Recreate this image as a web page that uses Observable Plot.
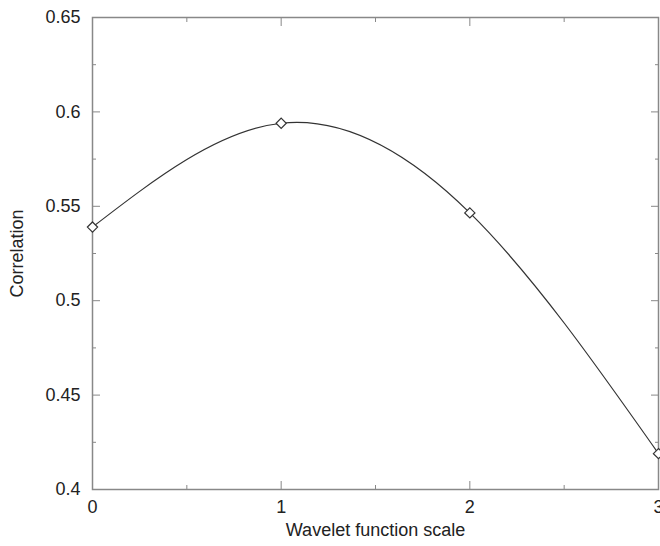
<!DOCTYPE html>
<html>
<head>
<meta charset="utf-8">
<script src="https://cdn.jsdelivr.net/npm/d3@7"></script>
<script src="https://cdn.jsdelivr.net/npm/@observablehq/plot@0.6"></script>
<style>
  html, body { margin: 0; padding: 0; background: #fff; }
</style>
</head>
<body>
<div id="chart"></div>
<script>
const scales = [0, 1, 2, 3];
const correlation = [0.539, 0.594, 0.5465, 0.419];
const xMajor = [0, 1, 2, 3];
const xMinor = [0.5, 1.5, 2.5];
const yMajor = [0.4, 0.45, 0.5, 0.55, 0.6, 0.65];
const yMinor = [0.425, 0.475, 0.525, 0.575, 0.625];
const xTitle = "Wavelet function scale";
const yTitle = "Correlation";

const data = scales.map((s, i) => ({scale: s, corr: correlation[i]}));
const fmtY = d => String(+d.toFixed(2));
const blank = () => "";
const axisColor = "#888";

const chart = Plot.plot({
  width: 660,
  height: 546,
  marginLeft: 92,
  marginRight: 2,
  marginTop: 17,
  marginBottom: 57,
  style: {fontFamily: "'Liberation Sans', Arial, sans-serif", fontSize: "18px", color: "#222", background: "#fff"},
  x: {domain: [0, 3]},
  y: {domain: [0.4, 0.65]},
  marks: [
    Plot.frame({stroke: axisColor, strokeWidth: 1.5}),
    // bottom axis
    Plot.axisX(xMajor, {anchor: "bottom", tickSize: -8, tickPadding: 19, stroke: axisColor, fill: "#222", tickFormat: d => String(d),
      label: xTitle, labelAnchor: "center", labelOffset: 46, labelArrow: "none"}),
    Plot.axisX(xMinor, {anchor: "bottom", tickSize: -4, stroke: axisColor, tickFormat: blank, label: null}),
    // top axis
    Plot.axisX(xMajor, {anchor: "top", tickSize: -8, stroke: axisColor, tickFormat: blank, label: null}),
    Plot.axisX(xMinor, {anchor: "top", tickSize: -4, stroke: axisColor, tickFormat: blank, label: null}),
    // left axis
    Plot.axisY(yMajor, {anchor: "left", tickSize: -8, tickPadding: 20, stroke: axisColor, fill: "#222", tickFormat: fmtY,
      label: yTitle, labelAnchor: "center", labelOffset: 82, labelArrow: "none"}),
    Plot.axisY(yMinor, {anchor: "left", tickSize: -4, stroke: axisColor, tickFormat: blank, label: null}),
    // right axis
    Plot.axisY(yMajor, {anchor: "right", tickSize: -8, stroke: axisColor, tickFormat: blank, label: null}),
    Plot.axisY(yMinor, {anchor: "right", tickSize: -4, stroke: axisColor, tickFormat: blank, label: null}),
    Plot.line(data, {x: "scale", y: "corr", curve: "natural", stroke: "#333", strokeWidth: 1.2}),
    Plot.dot(data, {x: "scale", y: "corr", symbol: "diamond2", r: 4.6, stroke: "#333", fill: "#fff", strokeWidth: 1.2})
  ]
});
document.getElementById("chart").appendChild(chart);
</script>
</body>
</html>
